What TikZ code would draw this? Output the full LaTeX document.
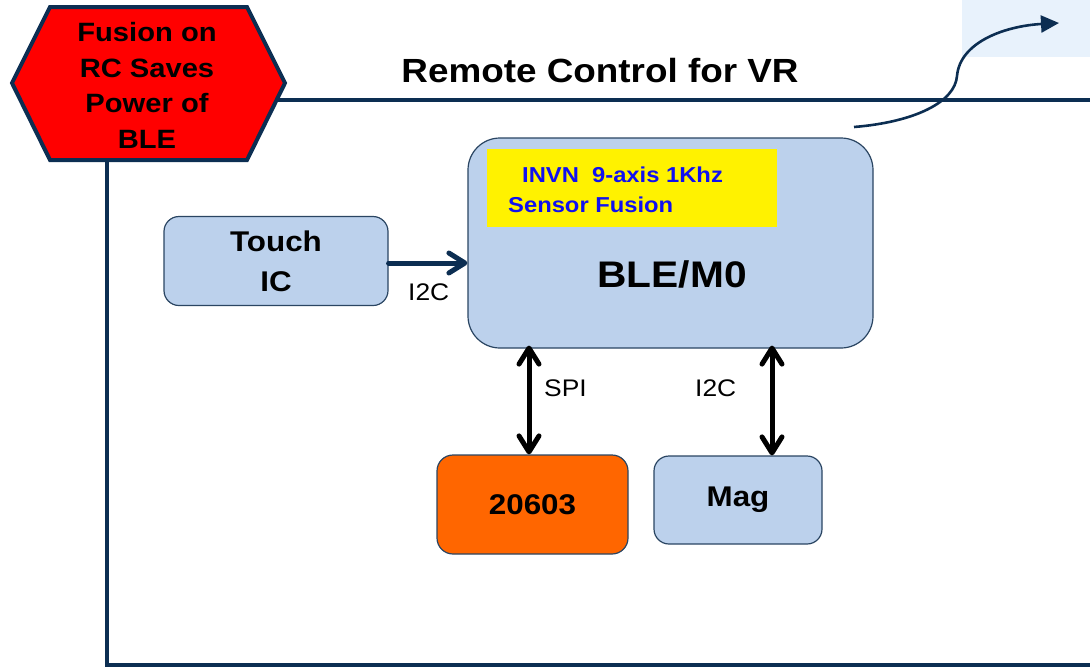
\documentclass[tikz,border=0pt]{standalone}
\usepackage{fontspec}
\setmainfont{Liberation Sans}[FakeStretch=1.1]
\usetikzlibrary{arrows.meta}

\definecolor{navy}{HTML}{0C2E52}
\definecolor{boxblue}{HTML}{BCD1EC}
\definecolor{boxline}{HTML}{2A4562}
\definecolor{chiporange}{HTML}{FF6600}
\definecolor{paleblue}{HTML}{E8F2FC}
\definecolor{textblue}{HTML}{1010F0}

\newcommand\setfs[2]{\fontsize{#1}{#2}\selectfont}

\tikzset{
  frame/.style={draw=navy, line width=4pt},
  block/.style={draw=boxline, line width=1.2pt, fill=boxblue, inner sep=0pt,
                rectangle, rounded corners=#1},
  block/.default=15pt,
  boldtext/.style={font=\bfseries\setfs{28.5}{40}, align=center, inner sep=0pt},
  buslabel/.style={font=\setfs{24}{28}, inner sep=0pt, anchor=base west},
  barb/.tip={Straight Barb[length=16pt, width=20pt, line cap=round, line join=round]},
  link/.style={line width=5pt, line cap=round},
}

\begin{document}
\begin{tikzpicture}[x=1pt, y=-1pt]
\useasboundingbox (0,0) rectangle (1090,667);

% pale panel in the upper right corner
\fill[paleblue] (962,0) rectangle (1090,57);

% outline of the remote control
\coordinate (fTop) at (276.6,100);
\coordinate (fLeft) at (107,160);
\draw[frame] (fTop) -- (1092,100);
\draw[frame, line join=miter] (fLeft) -- (107,664.5) -- (1092,664.5);

% hexagonal badge
\coordinate (h1) at (12,83);
\coordinate (h2) at (50,7);
\coordinate (h3) at (247,7);
\coordinate (h4) at (285,83);
\coordinate (h5) at (247,160);
\coordinate (h6) at (50,160);
\draw[navy, line width=4pt, fill=red, line join=miter]
  (h1) -- (h2) -- (h3) -- (h4) -- (h5) -- (h6) -- cycle;
\node[font=\bfseries\setfs{26.5}{35.7}, align=center, inner sep=0pt] (badge)
  at (147,85.5) {Fusion on\\RC Saves\\Power of\\BLE};

% title
\node[font=\bfseries\setfs{33.5}{38}, inner sep=0pt, anchor=base] (title)
  at (600,82) {Remote Control for VR};

% main controller
\node[block=32pt, minimum width=405pt, minimum height=210pt] (ble) at (670.5,243) {};
\node[fill=yellow, inner sep=0pt, minimum width=290pt, minimum height=78pt]
  (fusion) at (632,188) {};
\node[font=\bfseries\setfs{21.6}{30}, text=textblue, inner sep=0pt, anchor=base west]
  (fusionA) at (522,182) {INVN\ \ 9-axis 1Khz};
\node[font=\bfseries\setfs{21.6}{30}, text=textblue, inner sep=0pt, anchor=base west]
  (fusionB) at (508,212) {Sensor Fusion};
\node[font=\bfseries\setfs{37}{40}, inner sep=0pt, anchor=base] (bleText)
  at (672,287) {BLE/M0};

% peripherals
\node[block, minimum width=224pt, minimum height=89pt, boldtext] (touch)
  at (276,261) {Touch\\IC};
\node[block=16pt, fill=chiporange, minimum width=191pt, minimum height=99pt, boldtext]
  (chip) at (532.5,504.5) {20603};
\node[block, minimum width=168pt, minimum height=88pt, boldtext]
  (mag) at (738,500) {Mag};

% buses
\draw[link, navy, -{barb}] (touch.east |- 0,263) -- (ble.west |- 0,263);
\node[buslabel] (i2cTouch) at (408,300) {I2C};

\draw[link, black, {barb}-{barb}] (ble.south -| 529,0) ++(0,-3) -- (chip.north -| 529,0);
\node[buslabel] (spi) at (544,396) {SPI};

\draw[link, black, {barb}-{barb}] (ble.south -| 772,0) ++(0,-3) -- (mag.north -| 772,0);
\node[buslabel] (i2cMag) at (695,396) {I2C};

% wireless link leaving the controller
\coordinate (wStart) at (854,127);
\coordinate (wEnd) at (1059,23);
\draw[navy, line width=2.6pt, -{Triangle[length=18pt, width=17pt]}]
  (wStart) .. controls (915,122) and (955,102) .. (957,76)
  .. controls (960,42) and (1005,26) .. (wEnd);
\end{tikzpicture}
\end{document}
